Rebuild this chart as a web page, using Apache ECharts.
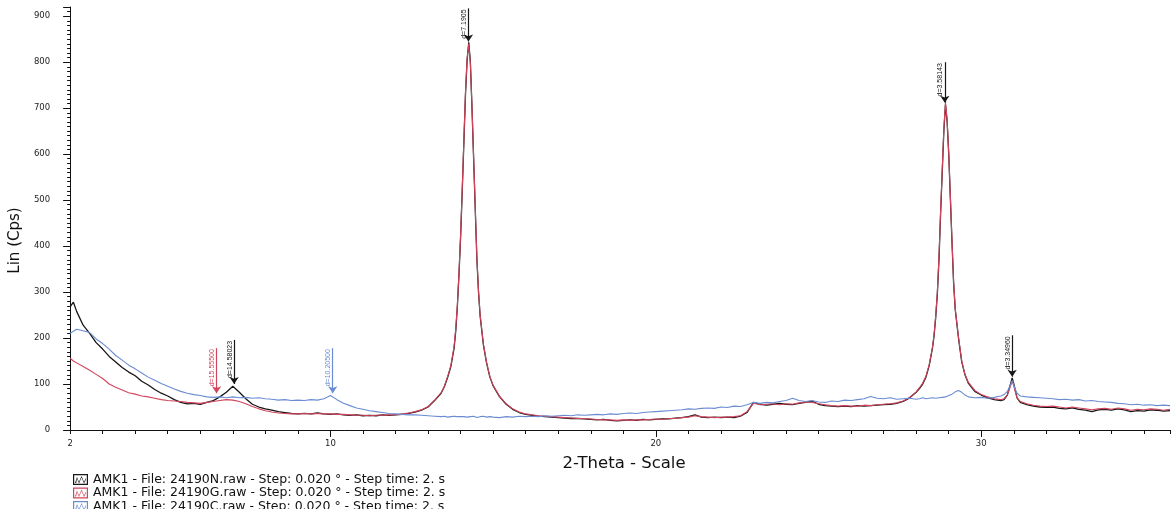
<!DOCTYPE html>
<html>
<head>
<meta charset="utf-8">
<title>AMK1 - XRD</title>
<script src="https://cdn.jsdelivr.net/npm/echarts@6/dist/echarts.min.js"></script>
<style>
    html, body {margin: 0; padding: 0; background: #fff;}
    #chart {width: 1173px; height: 509px;}
</style>
</head>
<body>
<div id="chart"></div>
<script>
// 2-theta positions (deg), finer around the peaks
let theta = [
    // 2 - 13
    2.0, 2.1, 2.2, 2.4, 2.6, 2.8, 3.0, 3.2, 3.4, 3.6, 3.8, 4.0, 4.2, 4.4, 4.6, 4.8, 5.0, 5.2, 5.4, 5.6,
    5.8, 6.0, 6.2, 6.4, 6.6, 6.8, 7.0, 7.2, 7.4, 7.6, 7.8, 8.0, 8.2, 8.4, 8.6, 8.8, 9.0, 9.2, 9.4, 9.6,
    9.8, 10.0, 10.2, 10.4, 10.6, 10.8, 11.0, 11.2, 11.4, 11.6, 11.8, 12.0, 12.2, 12.4, 12.6, 12.8, 13.0,
    // peak d=7.19
    13.2, 13.4, 13.5, 13.6, 13.7, 13.8, 13.85, 13.9, 13.95, 14.0, 14.05, 14.1, 14.15, 14.2, 14.25,
    14.3, 14.35, 14.4, 14.45, 14.5, 14.55, 14.6, 14.7, 14.8, 14.9, 15.0, 15.2, 15.4, 15.6, 15.8,
    // 16 - 27.6
    16.0, 16.2, 16.4, 16.6, 16.8, 17.0, 17.2, 17.4, 17.6, 17.8, 18.0, 18.2, 18.4, 18.6, 18.8,
    19.0, 19.2, 19.4, 19.6, 19.8, 20.0, 20.2, 20.4, 20.6, 20.8, 21.0, 21.2, 21.4, 21.6, 21.8,
    22.0, 22.2, 22.4, 22.6, 22.8, 23.0, 23.2, 23.4, 23.6, 23.8, 24.0, 24.2, 24.4, 24.6, 24.8,
    25.0, 25.2, 25.4, 25.6, 25.8, 26.0, 26.2, 26.4, 26.6, 26.8, 27.0, 27.2, 27.4, 27.6,
    // peaks d=3.58 / d=3.35
    27.8, 28.0, 28.1, 28.2, 28.3, 28.4, 28.5, 28.55, 28.6, 28.65, 28.7, 28.75, 28.8, 28.85, 28.9,
    28.95, 29.0, 29.05, 29.1, 29.15, 29.2, 29.3, 29.4, 29.5, 29.6, 29.8, 30.0, 30.2, 30.4, 30.6,
    30.7, 30.8, 30.9, 30.95, 31.0, 31.05, 31.1, 31.2, 31.4, 31.6, 31.8,
    // 32 - 35.8
    32.0, 32.2, 32.4, 32.6, 32.8, 33.0, 33.2, 33.4, 33.6, 33.8, 34.0, 34.2, 34.4, 34.6, 34.8,
    35.0, 35.2, 35.4, 35.6, 35.8
];

// 24190N (black)
let countsN = [
    268, 278, 258, 228, 210, 190, 176, 160, 148, 136, 126, 118, 106, 98, 88, 80, 74, 66, 60, 57,
    58, 56, 60, 64, 72, 82, 95, 82, 68, 56, 50, 46, 43, 40, 38, 36, 35, 36, 35, 37,
    35, 34, 35, 33, 32, 33, 31, 32, 31, 33, 32, 33, 34, 36, 39, 43, 50,
    64, 80, 94, 114, 138, 178, 215, 268, 338, 420, 520, 625, 730, 805, 843,
    800, 700, 590, 480, 372, 300, 248, 185, 145, 115, 96, 72, 56, 45, 38,
    34, 32, 30, 29, 28, 27, 26, 25, 25, 24, 23, 22, 23, 21, 20,
    21, 22, 21, 23, 22, 23, 24, 24, 26, 27, 29, 33, 28, 27, 28,
    27, 28, 27, 30, 38, 60, 56, 54, 56, 58, 56, 55, 58, 60, 63,
    56, 53, 52, 51, 52, 51, 53, 52, 53, 54, 55, 56, 58, 62,
    70, 82, 90, 100, 115, 140, 178, 205, 245, 295, 370, 470, 560, 650, 708,
    672, 600, 505, 410, 320, 262, 200, 148, 120, 102, 84, 76, 70, 66, 64,
    66, 76, 100, 113, 100, 85, 70, 60, 55, 52, 50,
    49, 50, 47, 46, 48, 45, 43, 40, 44, 45, 43, 46, 44, 40, 42,
    41, 44, 43, 41, 42
];

// 24190G (red)
let countsG = [
    156, 150, 146, 138, 130, 121, 112, 100, 93, 87, 81, 78, 74, 72, 69, 66, 64, 63, 62, 60,
    59, 58, 60, 62, 64, 66, 65, 62, 57, 51, 46, 42, 39, 37, 36, 35, 35, 36, 35, 36,
    35, 35, 34, 34, 33, 32, 32, 31, 32, 32, 33, 33, 35, 37, 40, 44, 51,
    65, 81, 95, 116, 140, 182, 220, 272, 342, 425, 525, 630, 735, 808, 840,
    798, 702, 592, 484, 375, 302, 250, 187, 146, 116, 97, 73, 57, 46, 39,
    35, 33, 31, 30, 29, 28, 27, 26, 25, 25, 24, 23, 22, 22, 21,
    22, 21, 22, 22, 23, 24, 23, 25, 25, 27, 28, 31, 29, 28, 27,
    28, 28, 29, 31, 40, 58, 55, 56, 57, 55, 57, 56, 59, 61, 60,
    57, 55, 53, 52, 53, 52, 52, 54, 53, 55, 56, 57, 59, 63,
    71, 83, 92, 102, 117, 142, 180, 208, 248, 300, 375, 475, 565, 655, 712,
    675, 603, 508, 412, 322, 264, 202, 150, 121, 104, 86, 77, 72, 68, 66,
    68, 76, 96, 106, 96, 82, 70, 62, 57, 54, 52,
    51, 52, 50, 48, 50, 48, 46, 44, 46, 47, 45, 48, 46, 43, 45,
    44, 46, 45, 43, 45
];

// 24190C (blue)
let countsC = [
    210, 215, 219, 216, 212, 198, 188, 176, 162, 152, 141, 133, 124, 115, 108, 101, 95, 89, 84, 80,
    77, 75, 72, 71, 72, 70, 72, 70, 71, 69, 70, 68, 67, 65, 66, 64, 65, 64, 66, 65,
    68, 75, 66, 58, 53, 48, 45, 42, 40, 38, 36, 35, 34, 33, 33, 32, 31,
    30, 29, 30, 28, 29, 30, 28, 29, 30, 29, 28, 29, 30, 28, 27,
    29, 28, 30, 29, 27, 28, 29, 30, 28, 29, 28, 27, 29, 28, 30,
    29, 30, 29, 31, 30, 31, 32, 31, 33, 32, 33, 34, 33, 35, 34,
    36, 37, 36, 38, 39, 40, 41, 42, 43, 44, 46, 45, 47, 48, 47,
    50, 49, 52, 51, 55, 60, 58, 60, 59, 62, 64, 69, 64, 62, 64,
    61, 60, 63, 62, 65, 64, 66, 68, 73, 69, 68, 70, 67, 68,
    69, 67, 68, 70, 68, 69, 70, 68, 69, 71, 70, 72, 71, 73, 72,
    74, 75, 77, 78, 80, 83, 86, 82, 76, 72, 70, 71, 69, 71, 74,
    77, 84, 98, 108, 98, 88, 80, 74, 72, 71, 70,
    69, 68, 66, 67, 65, 66, 63, 64, 62, 61, 60, 58, 57, 55, 56,
    54, 55, 53, 54, 53
];

let seriesNames = [
    'AMK1 - File: 24190N.raw - Step: 0.020 ° - Step time: 2. s',
    'AMK1 - File: 24190G.raw - Step: 0.020 ° - Step time: 2. s',
    'AMK1 - File: 24190C.raw - Step: 0.020 ° - Step time: 2. s'
];
let seriesColors = ['#161616', '#d2445c', '#6a8cd2'];

// peak markers: [label, 2-theta, arrow tip, line top]
let peaksN = [
    ['d=14.58023', 7.04, 100, 196],
    ['d=7.1905', 14.24, 845, 917],
    ['d=3.58143', 28.88, 712, 800],
    ['d=3.34960', 30.95, 116, 206]
];
let peaksG = [['d=15.55500', 6.5, 80, 178]];
let peaksC = [['d=10.20500', 10.07, 80, 178]];

let xLabels = [2, 10, 20, 30];
let xMajorTicks = [10, 20, 30];

let fontName = 'DejaVu Sans, Liberation Sans, sans-serif';
let smallFont = 'Liberation Sans, Arial, sans-serif';

// box with a zigzag, like the EVA legend swatch
let legendIcon = 'path://M0,0H15V11H0Z M1.2,1.2V9.8H13.8V1.2Z ' +
    'M2,9L4,3L6,8L8.5,2L11,8L13,4L13,5.6L11,9.6L8.5,3.6L6,9.6L4,4.6L3.2,9Z';

function makeMarkLine(peaks, color) {
    return {
        silent: true,
        animation: false,
        symbol: ['arrow', 'none'],
        symbolSize: 7,
        lineStyle: {color: color, width: 1.2, type: 'solid'},
        label: {
            show: true,
            position: 'insideEndTop',
            formatter: '{b}',
            fontSize: 7,
            fontFamily: smallFont,
            color: color,
            distance: 1
        },
        emphasis: {disabled: true},
        data: peaks.map(function (p) {
            return [{name: p[0], coord: [p[1], p[2]]}, {coord: [p[1], p[3]]}];
        })
    };
}

function makeSeries(index, counts, peaks) {
    return {
        type: 'line',
        name: seriesNames[index],
        data: theta.map(function (t, i) {
            return [t, counts[i]];
        }),
        showSymbol: false,
        symbol: 'none',
        color: seriesColors[index],
        lineStyle: {width: index === 0 ? 1.3 : 1.1, color: seriesColors[index]},
        emphasis: {disabled: true},
        markLine: makeMarkLine(peaks, seriesColors[index])
    };
}

let axisColor = '#111';

let option = {
    animation: false,
    backgroundColor: '#fff',
    grid: {left: 70, right: 1, top: 7, bottom: 79},
    legend: {
        orient: 'vertical',
        left: 73,
        top: 473,
        height: 50,
        padding: 0,
        itemGap: 0.5,
        itemWidth: 15,
        itemHeight: 11,
        icon: legendIcon,
        textStyle: {fontSize: 12.5, lineHeight: 12, color: '#111', fontFamily: fontName},
        data: seriesNames
    },
    xAxis: [{
        type: 'value',
        min: 2,
        max: 35.8,
        interval: 1,
        position: 'bottom',
        name: '2-Theta - Scale',
        nameLocation: 'middle',
        nameGap: 25,
        nameTextStyle: {fontSize: 16.5, color: '#111', fontFamily: fontName, padding: [0, 0, 0, 8]},
        axisLine: {show: true, lineStyle: {color: axisColor, width: 1}},
        axisTick: {show: true, length: 4, lineStyle: {color: axisColor}},
        axisLabel: {
            fontSize: 8.5,
            color: '#222',
            margin: 9,
            fontFamily: fontName,
            formatter: function (v) {
                return xLabels.indexOf(v) >= 0 ? v : '';
            }
        },
        splitLine: {show: false}
    }, {
        // longer ticks at 10, 20, 30
        type: 'value',
        min: 2,
        max: 35.8,
        position: 'bottom',
        axisLine: {show: false},
        axisTick: {show: true, length: 7, customValues: xMajorTicks, lineStyle: {color: axisColor}},
        axisLabel: {show: false},
        splitLine: {show: false}
    }],
    yAxis: {
        type: 'value',
        min: 0,
        max: 920,
        interval: 100,
        name: 'Lin (Cps)',
        nameLocation: 'middle',
        nameGap: 40,
        nameTextStyle: {fontSize: 15, color: '#111', fontFamily: fontName, padding: [0, 44, 0, 0]},
        axisLine: {show: true, lineStyle: {color: axisColor, width: 1}},
        axisTick: {show: true, length: 7, lineStyle: {color: axisColor}},
        minorTick: {show: true, splitNumber: 10, length: 3, lineStyle: {color: axisColor}},
        axisLabel: {
            fontSize: 8.5,
            color: '#222',
            margin: 20,
            fontFamily: fontName,
            formatter: function (v) {
                return v % 100 === 0 ? v : '';
            }
        },
        splitLine: {show: false}
    },
    series: [
        makeSeries(0, countsN, peaksN),
        makeSeries(1, countsG, peaksG),
        makeSeries(2, countsC, peaksC)
    ]
};

let chart = echarts.init(document.getElementById('chart'));
chart.setOption(option);
</script>
</body>
</html>
